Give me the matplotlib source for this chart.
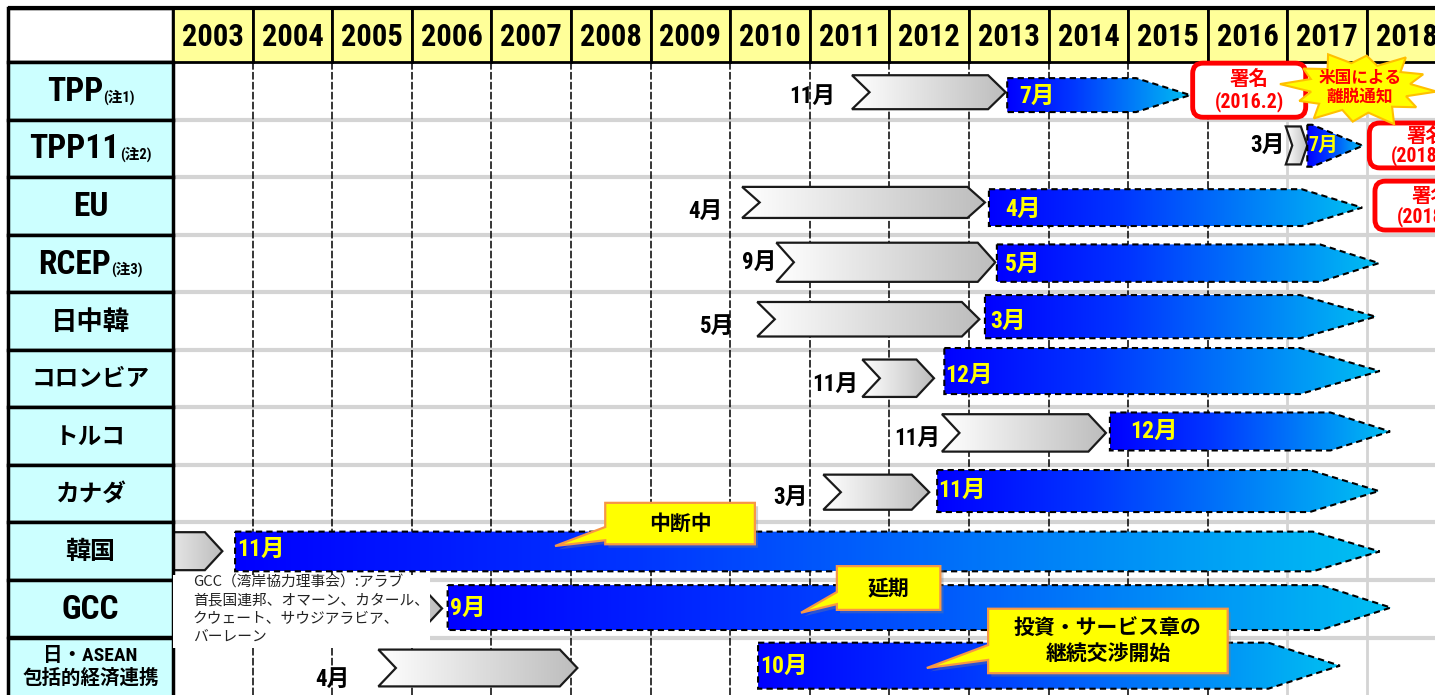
import numpy as np
import matplotlib
matplotlib.use('Agg')
import matplotlib.pyplot as plt
from matplotlib.patches import Polygon, Rectangle, FancyBboxPatch
from matplotlib.colors import LinearSegmentedColormap
from matplotlib import font_manager

# ---- data ----
years = list(range(2003, 2019))
rows = ['TPP', 'TPP11', 'EU', 'RCEP', '日中韓', 'コロンビア', 'トルコ', 'カナダ', '韓国', 'GCC',
        '日・ASEAN\n包括的経済連携']
row_notes = ['(注1)', '(注2)', '', '(注3)', '', '', '', '', '', '', '']

# preparatory phase (grey chevrons), decimal years
study_month = ['11月', '3月', '4月', '9月', '5月', '11月', '11月', '3月', '', '', '4月']
study_start = [2011.53, 2016.98, 2010.15, 2010.58, 2010.34, 2011.66, 2012.66, 2011.17, 2002.60, 2005.00, 2005.58]
study_end = [2013.46, 2017.25, 2013.20, 2013.33, 2013.13, 2012.56, 2014.72, 2012.50, 2003.62, 2006.38, 2008.08]

# negotiations (blue arrows), decimal years
nego_month = ['7月', '7月', '4月', '5月', '3月', '12月', '12月', '11月', '11月', '9月', '10月']
nego_start = [2013.48, 2017.25, 2013.25, 2013.35, 2013.20, 2012.69, 2014.77, 2012.60, 2003.78, 2006.45, 2010.35]
nego_shoulder = [2015.10, 2017.31, 2017.18, 2017.41, 2017.16, 2017.16, 2017.54, 2017.28, 2017.32, 2017.42, 2016.76]
nego_end = [2015.78, 2017.95, 2017.94, 2018.15, 2018.11, 2018.16, 2018.29, 2018.15, 2018.16, 2018.30, 2017.66]

sign_rows = [0, 1, 2]
sign_dates = ['(2016.2)', '(2018.3)', '(2018.7)']

gcc_note = 'GCC（湾岸協力理事会）:アラブ\n首長国連邦、オマーン、カタール、\nクウェート、サウジアラビア、\nバーレーン'

# ---- layout ----
PX_YR = 79.6     # pixels per year
PX_ROW = 57.55   # pixels per row
X0 = 2003 - 173 / PX_YR
X1 = 2003 + (1435 - 173) / PX_YR
Y_TOP = -62 / PX_ROW
Y_BOT = (695 - 62) / PX_ROW
HEAD = -54 / PX_ROW
LABEL_LEFT = 2003 - 165 / PX_YR

grey_span = [(0.23, 0.82), (0.12, 0.78), (0.17, 0.71), (0.14, 0.82), (0.17, 0.77), (0.17, 0.82),
             (0.12, 0.77), (0.17, 0.78), (0.17, 0.83), (0.17, 0.82), (0.21, 0.85)]
blue_span = [(0.28, 0.87), (0.09, 0.82), (0.21, 0.85), (0.17, 0.82), (0.05, 0.80), (-0.03, 0.77),
             (0.09, 0.75), (0.09, 0.82), (0.16, 0.85), (0.09, 0.87), (0.09, 0.89)]
study_gap = [0.21, 0.01, 0.25, 0.0, 0.29, 0.05, 0.02, 0.19, 0, 0, 0.36]
study_y = [0.59, 0.45, 0.59, 0.49, 0.59, 0.61, 0.54, 0.56, 0, 0, 0.73]
nego_dx = [12, 1, 16, 8, 5, 1, 20, 1, 2, 2, 2]
nego_y = [0.59, 0.45, 0.57, 0.51, 0.50, 0.44, 0.42, 0.45, 0.47, 0.49, 0.50]
label_size = [24, 24, 24, 24, 19, 17, 17, 17, 18, 24, 14]

# look for a narrow / condensed latin face (the original uses a condensed gothic)
narrow, stretch, scale = 'Liberation Sans', 'normal', 1.0
found = False
for pref in ['Liberation Sans Narrow', 'Roboto Condensed', 'Open Sans Condensed', 'Noto Sans Condensed', 'Noto Sans']:
    for f in font_manager.fontManager.ttflist:
        cond = ('Narrow' in f.name or 'Condensed' in f.name or str(f.stretch) in ('condensed', 'semi-condensed'))
        if f.name == pref and cond and str(f.weight) in ('700', 'bold', '600', 'semibold'):
            narrow, stretch, scale = f.name, (f.stretch if f.name == 'Noto Sans' else 'normal'), 1.1
            found = True
            break
    if found:
        break

plt.rcParams['font.family'] = [narrow, 'Noto Sans CJK JP', 'DejaVu Sans']
plt.rcParams['font.stretch'] = stretch
jp = ['Noto Sans CJK JP', 'DejaVu Sans']
if not found:
    label_size = [21 if s == 24 else s for s in label_size]

grey_cmap = LinearSegmentedColormap.from_list('grey', ['#FFFFFF', '#BDBDBD'])
blue_cmap = LinearSegmentedColormap.from_list('blue', [(0, '#0000FF'), (0.35, '#0035FF'), (1, '#00BFF2')])

fig = plt.figure(figsize=(14.35, 6.95), dpi=100)
ax = fig.add_axes([0, 0, 1, 1])
ax.axis('off')


def grad_shape(pts, cmap, z, **kw):
    poly = Polygon(pts, closed=True, facecolor='none', zorder=z + 0.1, **kw)
    ax.add_patch(poly)
    xs = [p[0] for p in pts]
    ys = [p[1] for p in pts]
    im = ax.imshow(np.linspace(0, 1, 256).reshape(1, -1), cmap=cmap, aspect='auto',
                   extent=(min(xs), max(xs), max(ys), min(ys)), interpolation='bilinear', zorder=z)
    im.set_clip_path(poly)


# grid
ax.hlines(range(1, 11), 2003, X1, color='#D4D4D4', lw=3, zorder=1)
ax.vlines([2017, 2018], 0, Y_BOT, color='#D4D4D4', lw=2, zorder=1)
ax.vlines(range(2004, 2017), 0, Y_BOT, color='black', lw=1.1, linestyles=(0, (5, 1.5)), zorder=2)

# bars
for i in range(len(rows)):
    g0, g1 = i + grey_span[i][0], i + grey_span[i][1]
    gm = (g0 + g1) / 2
    d = min(0.22, 0.3 * (study_end[i] - study_start[i]))
    pts = [(study_start[i], g0), (study_end[i] - d, g0), (study_end[i], gm),
           (study_end[i] - d, g1), (study_start[i], g1), (study_start[i] + d, gm)]
    grad_shape(pts, grey_cmap, 5, edgecolor='#1a1a1a', lw=1.6)
    if study_month[i]:
        ax.text(study_start[i] - study_gap[i], i + study_y[i], study_month[i], ha='right', va='center',
                fontsize=15 * scale, fontweight='bold', color='black', zorder=8)

    b0, b1 = i + blue_span[i][0], i + blue_span[i][1]
    bm = (b0 + b1) / 2
    pts = [(nego_start[i], b0), (nego_shoulder[i], b0), (nego_end[i], bm),
           (nego_shoulder[i], b1), (nego_start[i], b1)]
    grad_shape(pts, blue_cmap, 6, edgecolor='black', lw=1.5, linestyle=(0, (3, 2)))
    ax.text(nego_start[i] + nego_dx[i] / PX_YR, i + nego_y[i], nego_month[i], ha='left', va='center',
            fontsize=(13 if i == 1 else 15.5) * scale, fontweight='bold', color='#FFFF00', zorder=9)

# signature boxes
sign_box = [(2015.81, 0.02, 1.42, 0.94), (2018.03, 1.06, 1.42, 0.78), (2018.10, 2.07, 1.42, 0.85)]
for (x, y, w, h), r, lab in zip(sign_box, sign_rows, sign_dates):
    ax.add_patch(FancyBboxPatch((x, y), w, h, boxstyle='round,pad=0,rounding_size=0.13',
                                mutation_aspect=PX_YR / PX_ROW, fc='white', ec='#FF0000', lw=3.5, zorder=25))
    ax.text(x + w / 2, y + h * 0.31, '署名', ha='center', va='center', fontsize=14,
            fontweight='bold', color='#FF0000', zorder=26)
    ax.text(x + w / 2, y + h * 0.72, lab, ha='center', va='center', fontsize=13 * scale,
            fontweight='bold', color='#FF0000', zorder=26)

# starburst
radii = [1.0, 0.64, 0.9, 0.66, 1.08, 0.68, 0.92, 0.64, 1.02, 0.68, 0.86, 0.64,
         1.04, 0.68, 0.9, 0.66, 1.0, 0.68, 0.88, 0.64, 1.02, 0.68, 0.9, 0.66]
ang = np.linspace(0, 2 * np.pi, len(radii), endpoint=False) + 0.1
cx, cy = 2017.91, 0.45
star = [(cx + 0.97 * r * np.cos(a), cy + 0.64 * r * np.sin(a)) for r, a in zip(radii, ang)]
ax.add_patch(Polygon(star, closed=True, fc='#FFFF00', ec='#FFC000', lw=1.5, zorder=27))
ax.text(cx, cy, '米国による\n離脱通知', ha='center', va='center', fontsize=12, fontweight='bold',
        color='#FF0000', linespacing=1.15, zorder=28)

# GCC note
ax.add_patch(Rectangle((2003, 8.914), 3.229, 1.27, fc='white', ec='none', zorder=30))
ax.text(2003.25, 8.92, gcc_note, ha='left', va='top', fontsize=10.6, family=jp, linespacing=1.38,
        color='#222222', zorder=31)

# callouts
callouts = [
    ('中断中', (2008.43, 2010.31, 7.66, 8.38), (8.08, 8.31), (2007.80, 8.41)),
    ('延期', (2011.34, 2012.64, 8.76, 9.52), (9.21, 9.42), (2010.89, 9.57)),
    ('投資・サービス章の\n継続交渉開始', (2013.24, 2016.25, 9.50, 10.62), (10.13, 10.39), (2012.47, 10.53)),
]
for txt, (L, R, T, B), (c1, c2), tip in callouts:
    pts = [(L, T), (R, T), (R, B), (L, B), (L, c2), tip, (L, c1)]
    shadow = [(x + 0.04, y + 0.06) for x, y in pts]
    ax.add_patch(Polygon(shadow, closed=True, fc='#7f7f7f', ec='none', alpha=0.35, zorder=39))
    ax.add_patch(Polygon(pts, closed=True, fc='#FFFF00', ec='#F79646', lw=1.6, zorder=40))
    ax.text((L + R) / 2, (T + B) / 2, txt, ha='center', va='center', fontsize=15, fontweight='bold',
            family=jp, linespacing=1.2, zorder=41)

# header row
ax.add_patch(Rectangle((LABEL_LEFT, HEAD), 2003 - LABEL_LEFT, -HEAD, fc='white', ec='black', lw=2.5, zorder=20))
for y in years:
    ax.add_patch(Rectangle((y, HEAD), 1, -HEAD, fc='#FFFF99', ec='black', lw=2, zorder=20))
    ax.text(y + 0.5, HEAD / 2 + 0.03, str(y), ha='center', va='center', fontsize=20 * scale,
            fontweight='bold', zorder=21)
ax.hlines(HEAD, LABEL_LEFT, X1, color='black', lw=3, zorder=21)

# label column
pairs = []
lab_x = (LABEL_LEFT + 2003) / 2
for i, name in enumerate(rows):
    h = 1.3 if i == len(rows) - 1 else 1
    ax.add_patch(Rectangle((LABEL_LEFT, i), 2003 - LABEL_LEFT, h, fc='#CCFFFF', ec='black', lw=2.5, zorder=20))
    t = ax.text(lab_x, i + 0.52, name, ha='center', va='center', fontsize=label_size[i], fontweight='bold',
                linespacing=1.25, zorder=21)
    if row_notes[i]:
        t.set_ha('left')
        n = ax.annotate(row_notes[i], xy=(1.0, 0.1), xycoords=t, ha='left', va='bottom', fontsize=10.5,
                        fontweight='bold', zorder=21)
        pairs.append((t, n))

ax.set_xlim(X0, X1)
ax.set_ylim(Y_BOT, Y_TOP)

fig.canvas.draw()
rend = fig.canvas.get_renderer()
for t, n in pairs:
    w = t.get_window_extent(rend).width + n.get_window_extent(rend).width
    t.set_x(lab_x - w / 2 / PX_YR)

fig.savefig('out.png', dpi=100)
